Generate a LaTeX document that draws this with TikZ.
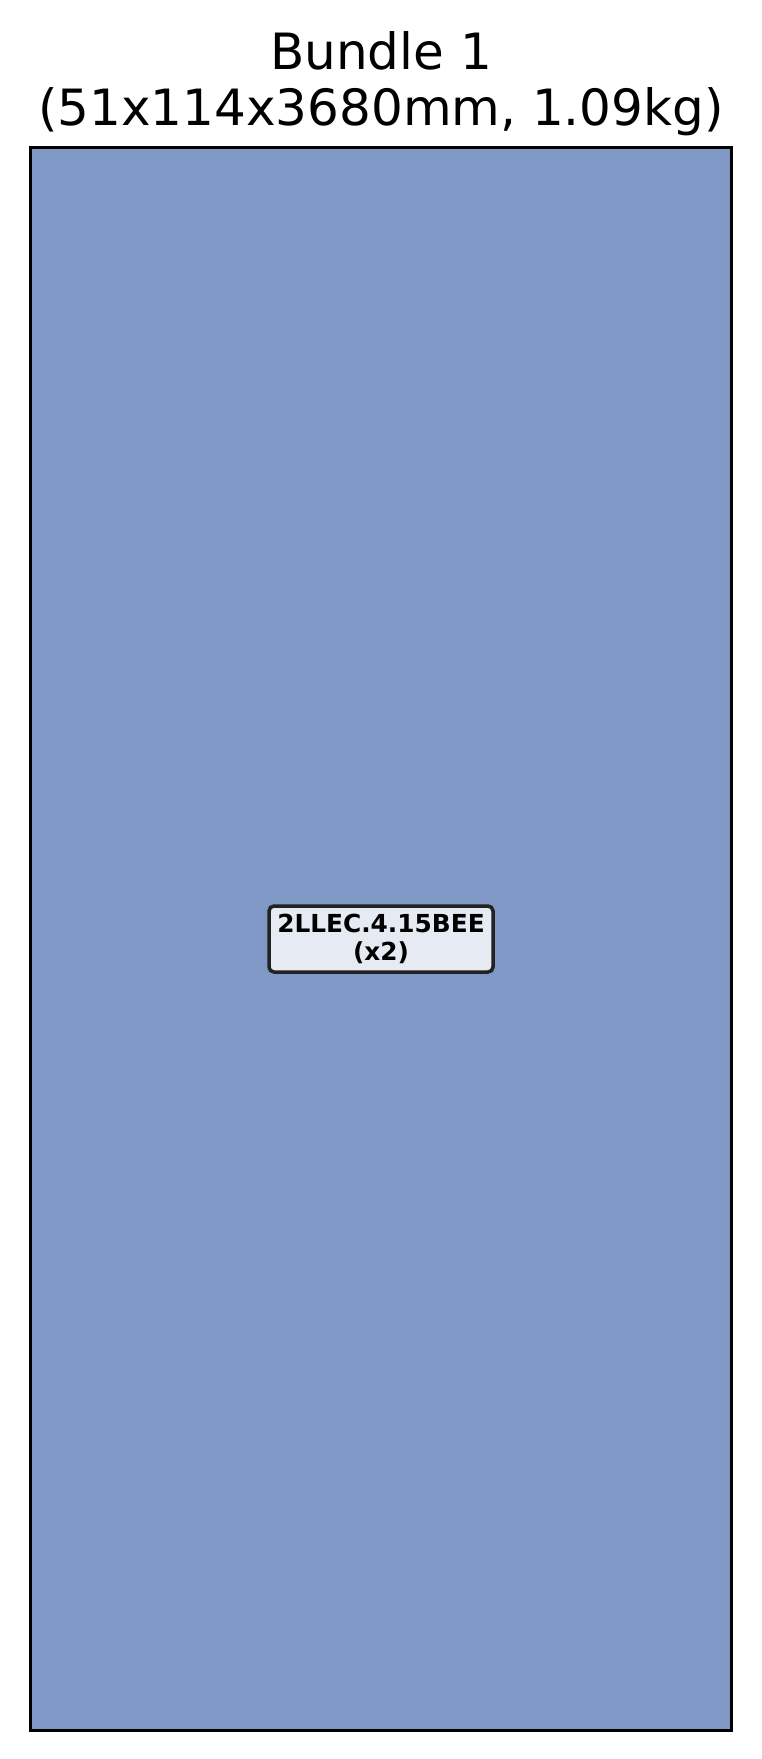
\documentclass[tikz,border=0pt]{standalone}
\usepackage{fontspec}
\setmainfont{DejaVu Sans}
\definecolor{bundleblue}{HTML}{7F98C5}
\definecolor{labelfill}{HTML}{E5EAF3}
\definecolor{labeledge}{HTML}{222222}
\tikzset{
  bundlebox/.style={draw=black, line width=3pt, fill=bundleblue,
                    minimum width=701pt, minimum height=1583pt, inner sep=0pt},
  partlabel/.style={draw=labeledge, line width=3.5pt, rounded corners=5pt,
                    fill=labelfill, align=center, inner sep=0pt,
                    font=\fontsize{24.8}{28}\selectfont\bfseries,
                    minimum width=224pt, minimum height=66pt},
  titletext/.style={align=center, font=\fontsize{50}{56}\selectfont}
}

\begin{document}
\begin{tikzpicture}[x=1pt, y=-1pt]
\useasboundingbox (0,0) rectangle (762,1759);

\node[titletext] (title) at (381, 83.5) {Bundle 1\\(51x114x3680mm, 1.09kg)};
\node[bundlebox] (bundle) at (381, 939) {};
\node[partlabel] (part) at (bundle.center) {2LLEC.4.15BEE\\(x2)};
\end{tikzpicture}
\end{document}
